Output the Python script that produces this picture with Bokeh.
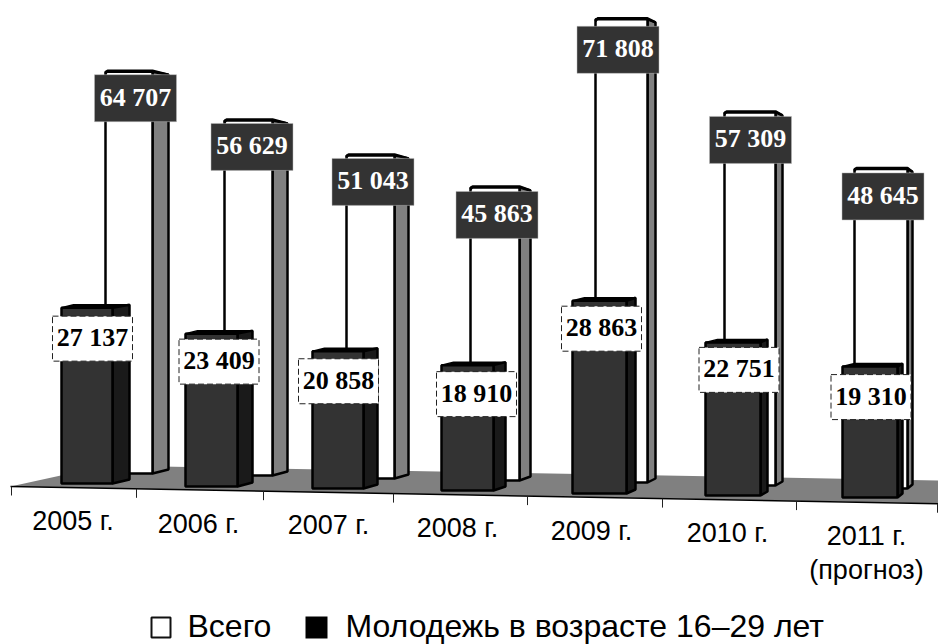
from bokeh.plotting import figure
from bokeh.models import Range1d
from bokeh.core.properties import value
from bokeh.embed import file_html
from bokeh.resources import INLINE

years = ["2005 г.", "2006 г.", "2007 г.", "2008 г.", "2009 г.", "2010 г.", "2011 г."]
total = [64707, 56629, 51043, 45863, 71808, 57309, 48645]
youth = [27137, 23409, 20858, 18910, 28863, 22751, 19310]
note = "(прогноз)"
legend_names = ["Всего", "Молодежь в возрасте 16–29 лет"]

# pseudo-3D layout (page pixels)
dark_left = [61, 185, 312, 441, 572, 705, 842]
dark_right = [112, 237, 363, 493, 626, 760, 897]
dark_side = [129, 252, 377, 505, 635, 767, 902]
dark_base = [483, 486, 488, 490, 493, 495, 497]
white_left = [105, 224, 346, 470, 595, 724, 854]
white_right = [152, 272, 394, 519, 647, 775, 907]
white_side = [168, 287, 408, 530, 655, 782, 912]
white_base = [473, 475, 478, 480, 482, 485, 488]
ticks_x = [11, 136, 263, 393, 527, 662, 796, 937]
year_x = [72.5, 198, 328, 457, 591, 727, 866]
year_mid = [520, 523, 524, 527, 530, 532, 535]
dark_lab_x = [135, 251.5, 372.5, 496.5, 617.5, 750, 882.5]
dark_lab_off = [4, 4, 4, 5, 8, 5, 5]
white_lab_x = [92, 218.5, 338, 476, 601, 738.5, 870.5]
white_lab_off = [31, 28, 30, 29, 28, 27.5, 30.5]

def y_dark(i, v):
    return dark_base[i] - v * (0.00648 + 0.00005 * i)

def y_white(i, v):
    return white_base[i] - v * (0.00621 + 0.00006 * i)

def front_edge(x):
    return 486 + (x - 11) * 0.0186

p = figure(width=938, height=644, output_backend="svg", toolbar_location=None,
           x_range=Range1d(0, 938), y_range=Range1d(644, 0),
           min_border=0, outline_line_color=None)
p.axis.visible = False
p.grid.visible = False

# floor
p.patch([10, 106, 938, 938], [486, 465, 480, 503], fill_color="#808080", line_color=None)
p.line([10, 938], [front_edge(10), front_edge(938)], line_color="black", line_width=1.5)
p.segment(ticks_x, [front_edge(x) for x in ticks_x], ticks_x, [front_edge(x) + 9 for x in ticks_x],
          line_color="#222222", line_width=1)

for i in range(7):
    # total bar
    L, R, S, B = white_left[i], white_right[i], white_side[i], white_base[i]
    T = y_white(i, total[i])
    p.patch([R, S, S, R], [T, T + 3, B - 4, B], fill_color="#808080", line_color="black", line_width=2.5)
    p.patch([L, R, R, L], [T, T, B, B], fill_color="white", line_color="black", line_width=2.5)
    p.line([L, L + 2, R, S], [T + 2, T - 1, T - 1, T + 3], line_color="black", line_width=2.5)
    # youth bar
    L, R, S, B = dark_left[i], dark_right[i], dark_side[i], dark_base[i]
    T = y_dark(i, youth[i])
    p.patch([L, L + 12, S, R], [T, T - 3, T - 3, T], fill_color="black", line_color="black", line_width=1.5)
    p.patch([R, S, S, R], [T, T - 3, B - 4, B], fill_color="#1a1a1a", line_color="black", line_width=2.5)
    p.patch([L, R, R, L], [T, T, B, B], fill_color="#333333", line_color="black", line_width=2.5)

# value labels
tops = [y_white(i, total[i]) - 1 + dark_lab_off[i] for i in range(7)]
p.quad(left=[x - 41 for x in dark_lab_x], right=[x + 41 for x in dark_lab_x],
       top=tops, bottom=[t + 47 for t in tops], fill_color="#333333", line_color="#bbbbbb", line_width=0.5)
p.text(dark_lab_x, [t + 22.5 for t in tops], text=[f"{v:,}".replace(",", " ") for v in total],
       text_color="white", text_font=value("Liberation Serif"), text_font_style="bold",
       text_font_size="26px", text_align="center", text_baseline="middle")

mids = [y_dark(i, youth[i]) + white_lab_off[i] for i in range(7)]
p.quad(left=[x - 40 for x in white_lab_x], right=[x + 40 for x in white_lab_x],
       top=[m - 22.5 for m in mids], bottom=[m + 22.5 for m in mids],
       fill_color="white", line_color="#222222", line_width=1, line_dash="6 3")
p.text(white_lab_x, [m - 1 for m in mids], text=[f"{v:,}".replace(",", " ") for v in youth],
       text_color="black", text_font=value("Liberation Serif"), text_font_style="bold",
       text_font_size="26px", text_align="center", text_baseline="middle")

# category labels
p.text(year_x, year_mid, text=years, text_color="black", text_font=value("Liberation Sans"),
       text_font_size="27px", text_align="center", text_baseline="middle")
p.text([866], [569], text=[note], text_color="black", text_font=value("Liberation Sans"),
       text_font_size="27px", text_align="center", text_baseline="middle")

# legend
p.quad(left=[151], right=[170], top=[617], bottom=[637], fill_color="white", line_color="#111111", line_width=2)
p.quad(left=[305], right=[327], top=[616], bottom=[638], fill_color="black", line_color=None)
p.text([187, 345], [625, 625], text=legend_names, text_color="black", text_font=value("Liberation Sans"),
       text_font_size="32px", text_align="left", text_baseline="middle")

open("out.html", "w").write(file_html(p, INLINE))
